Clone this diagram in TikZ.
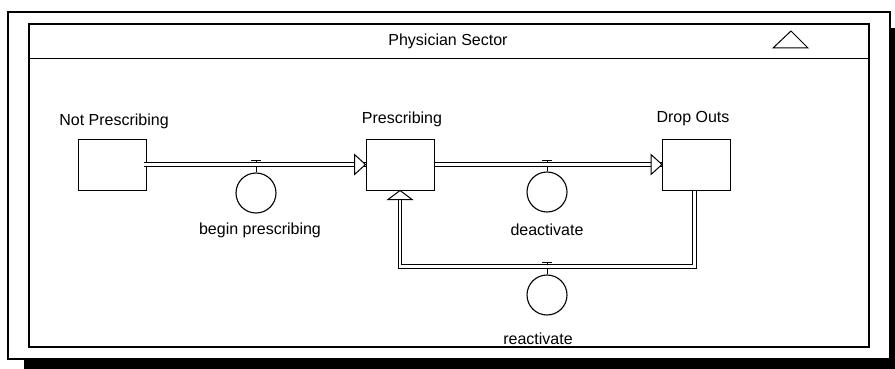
\documentclass[tikz,border=0pt]{standalone}
\usepackage{fontspec}
\setmainfont{Liberation Sans}
\usetikzlibrary{calc}
\begin{document}
\begin{tikzpicture}[x=1pt,y=-1pt,
  stock/.style={draw, line width=1pt, minimum width=68pt, minimum height=51pt, inner sep=0pt},
  valvecirc/.style={draw, circle, line width=1.1pt, minimum size=40pt, inner sep=0pt},
  lbl/.style={font=\fontsize{16}{19}\selectfont, inner sep=0pt},
  flow/.style={double, double distance=2.5pt, line width=1pt, line join=miter},
  tipshape/.style={draw, fill=white, line width=1pt, line join=miter},
  stem/.style={line width=1pt}]
\useasboundingbox (0,0) rectangle (895,369);
% frame with shadow
\fill[black] (24,28) rectangle (895,369);
\draw[fill=white, line width=1.5pt] (8,12) rectangle (890,359);
\draw[line width=1.2pt] (29,24) rectangle (869,347);
\draw[line width=1pt] (29,59) -- (869,59);
\node[lbl] (title) at (448,41) {Physician Sector};
\draw[line width=1pt, line join=miter] (773,48) -- (791,31) -- (808,48) -- cycle;
% stocks
\node[stock] (np) at (112,164.5) {};
\node[stock] (pr) at (400,164.5) {};
\node[stock] (do) at (696.5,164.5) {};
\node[lbl] (npl) at (114,121) {Not Prescribing};
\node[lbl] (prl) at (402,119) {Prescribing};
\node[lbl] (dol) at (693,119) {Drop Outs};
% valves
\node[valvecirc] (bp) at (256,193) {};
\node[valvecirc] (dv) at (547,192) {};
\node[valvecirc] (rv) at (547,295) {};
\draw[stem] (bp.north) -- ++(0,-12) coordinate (bpT);
\draw[stem] ([xshift=-5pt]bpT) -- ([xshift=5pt]bpT);
\draw[stem] (dv.north) -- ++(0,-11) coordinate (dvT);
\draw[stem] ([xshift=-5pt]dvT) -- ([xshift=5pt]dvT);
\draw[stem] (rv.north) -- ++(0,-12) coordinate (rvT);
\draw[stem] ([xshift=-5pt]rvT) -- ([xshift=5pt]rvT);
\node[lbl] (bpl) at (260,230) {begin prescribing};
\node[lbl] (dvl) at (547,230) {deactivate};
\node[lbl] (rvl) at (538,339) {reactivate};
% flows
\draw[flow] ([xshift=-3pt]np.east) -- (pr.west);
\draw[tipshape] (pr.west) -- ++(-11,-10) -- ++(0,20) -- cycle;
\draw[flow] (pr.east) -- (do.west);
\draw[tipshape] (do.west) -- ++(-11,-10) -- ++(0,20) -- cycle;
\draw[flow] ([xshift=-2pt]do.south) -- ++(0,76) coordinate (loopc) -| (pr.south);
\draw[tipshape] (pr.south) -- ++(-12,9) -- ++(24,0) -- cycle;
\end{tikzpicture}
\end{document}
